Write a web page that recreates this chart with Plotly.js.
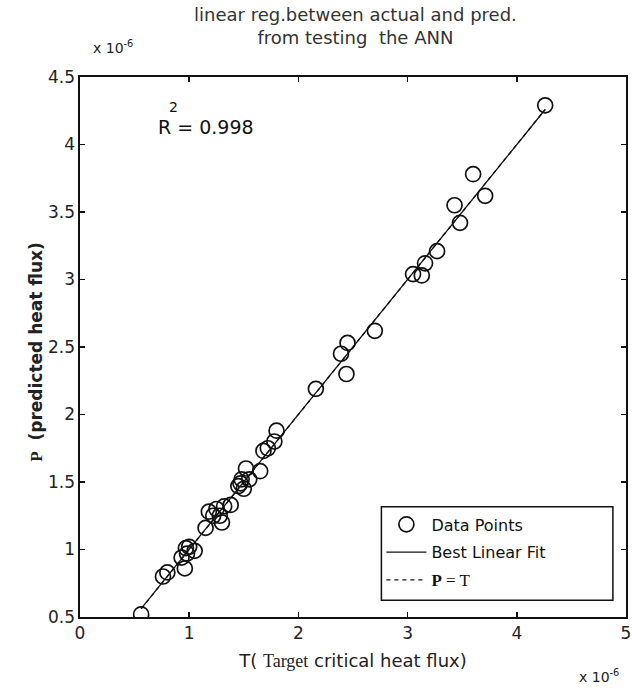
<!DOCTYPE html>
<html>
<head>
<meta charset="utf-8">
<script src="https://cdn.plot.ly/plotly-3.0.1.min.js"></script>
<style>html,body{margin:0;padding:0;background:#fff;}#chart{width:632px;height:689px;}</style>
</head>
<body>
<div id="chart"></div>
<script>
// Target (T) and predicted (P) critical heat flux, in units of 1e-6
const targetT = [0.56, 0.76, 0.80, 0.93, 0.96, 0.97, 0.98, 1.00, 1.05,
  1.15, 1.18, 1.22, 1.25, 1.28, 1.30, 1.32, 1.38,
  1.45, 1.47, 1.48, 1.50, 1.52, 1.55,
  1.65, 1.68, 1.72, 1.78, 1.80,
  2.16, 2.39, 2.44, 2.45, 2.70,
  3.05, 3.13, 3.16, 3.27, 3.43, 3.48, 3.60, 3.71, 4.26];
const predP = [0.52, 0.80, 0.83, 0.94, 0.86, 1.01, 0.97, 1.02, 0.99,
  1.16, 1.28, 1.25, 1.30, 1.25, 1.20, 1.32, 1.33,
  1.47, 1.49, 1.52, 1.45, 1.60, 1.52,
  1.58, 1.73, 1.75, 1.80, 1.88,
  2.19, 2.45, 2.30, 2.53, 2.62,
  3.04, 3.03, 3.12, 3.21, 3.55, 3.42, 3.78, 3.62, 4.29];
const r2Text = "R = 0.998";
const xTicks = [0, 1, 2, 3, 4, 5];
const yTicks = [0.5, 1, 1.5, 2, 2.5, 3, 3.5, 4, 4.5];

// least squares best linear fit computed from the data
const n = targetT.length;
const mx = targetT.reduce((a, b) => a + b, 0) / n;
const my = predP.reduce((a, b) => a + b, 0) / n;
let sxy = 0, sxx = 0;
for (let i = 0; i < n; i++) { sxy += (targetT[i] - mx) * (predP[i] - my); sxx += (targetT[i] - mx) ** 2; }
const slope = sxy / sxx, icpt = my - slope * mx;
const tMin = Math.min(...targetT), tMax = Math.max(...targetT);
const fitX = [tMin, tMax];
const fitY = fitX.map(t => slope * t + icpt);

const SANS = "DejaVu Sans, Verdana, sans-serif";
const SERIF = "Liberation Serif, Times New Roman, serif";

const traces = [
  {x: targetT, y: predP, type: 'scatter', mode: 'markers', name: 'Data Points', legendgroup: 'a',
   marker: {symbol: 'circle-open', size: 15, color: '#111', line: {width: 1.7, color: '#111'}}},
  {x: fitX, y: fitY, type: 'scatter', mode: 'lines', name: 'Best Linear Fit', legendgroup: 'b',
   line: {color: '#111', width: 1.3}},
  {x: fitX, y: fitX, type: 'scatter', mode: 'lines', name: '<span style="font-family:' + SERIF + ';font-size:17px"><b>P</b> = T</span>', legendgroup: 'c',
   line: {color: '#111', width: 1.3, dash: '4px,4px'}}
];

const axisCommon = {
  showgrid: false, zeroline: false, showline: true, linecolor: '#111', linewidth: 1.6,
  mirror: 'ticks', ticks: 'inside', ticklen: 5, tickwidth: 1.6, tickcolor: '#111',
  ticklabeloverflow: 'allow',
  tickfont: {family: SANS, size: 17, color: '#222'}
};

const layout = {
  width: 632, height: 689,
  margin: {l: 80, r: 6, t: 77, b: 72},
  paper_bgcolor: '#fff', plot_bgcolor: '#fff',
  showlegend: true,
  xaxis: Object.assign({}, axisCommon, {range: [0, 5], tickvals: xTicks, ticktext: xTicks.map(String),
    title: {text: 'T( <span style="font-family:' + SERIF + '">Target</span> critical heat flux)',
      font: {family: SANS, size: 18, color: '#222'}, standoff: 12}}),
  yaxis: Object.assign({}, axisCommon, {range: [0.5, 4.5], tickvals: yTicks, ticktext: yTicks.map(String)}),
  legend: {x: 0.552, y: 0.203, xanchor: 'left', yanchor: 'top', bgcolor: 'rgba(0,0,0,0)',
    borderwidth: 0, font: {family: SANS, size: 16, color: '#111'},
    traceorder: 'grouped', tracegroupgap: 4, itemwidth: 40},
  shapes: [
    {type: 'rect', xref: 'paper', yref: 'paper', x0: 0.552, x1: 0.976, y0: 0.031, y1: 0.204,
     fillcolor: '#fff', line: {color: '#111', width: 1.5}, layer: 'above'}
  ],
  annotations: [
    {xref: 'paper', yref: 'paper', x: 0.505, y: 1.095, xanchor: 'center', yanchor: 'middle', showarrow: false,
     text: 'linear reg.between actual and pred.<br>from testing  the ANN',
     font: {family: SANS, size: 18, color: '#333'}},
    {xref: 'paper', yref: 'paper', x: -0.102, y: 0.49, textangle: -90, showarrow: false,
     text: '<b><span style="font-family:' + SERIF + '">P</span></b>  <b>(predicted heat flux)</b>',
     font: {family: SANS, size: 17, color: '#222'}},
    {xref: 'x', yref: 'y', x: 0.70, y: 4.13, xanchor: 'left', showarrow: false, text: r2Text,
     font: {family: SANS, size: 19, color: '#111'}},
    {xref: 'x', yref: 'y', x: 0.86, y: 4.28, xanchor: 'center', showarrow: false, text: '2',
     font: {family: SANS, size: 14, color: '#111'}},
    {xref: 'paper', yref: 'paper', x: 0.02, y: 1.035, xanchor: 'left', yanchor: 'bottom', showarrow: false,
     text: 'x 10<sup>-6</sup>', font: {family: SANS, size: 14, color: '#222'}},
    {xref: 'paper', yref: 'paper', x: 0.99, y: -0.088, xanchor: 'right', yanchor: 'top', showarrow: false,
     text: 'x 10<sup>-6</sup>', font: {family: SANS, size: 14, color: '#222'}}
  ]
};

Plotly.newPlot('chart', traces, layout, {displayModeBar: false, staticPlot: true});
</script>
</body>
</html>
